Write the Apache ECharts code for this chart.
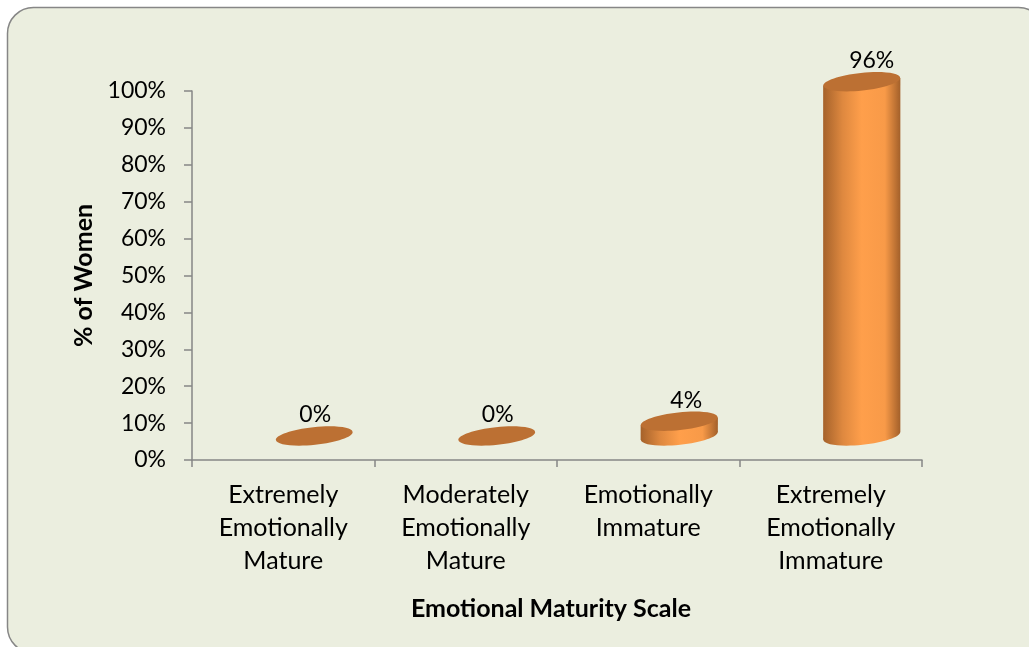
<!DOCTYPE html>
<html>
<head>
<meta charset="utf-8">
<title>Emotional Maturity Scale</title>
<script src="https://cdn.jsdelivr.net/npm/echarts@6/dist/echarts.min.js"></script>
<style>
html, body { margin: 0; padding: 0; background: #fff; }
#chart { width: 1029px; height: 647px; }
</style>
</head>
<body>
<div id="chart"></div>
<script>
const categories = ['Extremely\nEmotionally\nMature', 'Moderately\nEmotionally\nMature', 'Emotionally\nImmature', 'Extremely\nEmotionally\nImmature'];
const percentWomen = [0, 0, 4, 96];
const valueTicks = [0, 10, 20, 30, 40, 50, 60, 70, 80, 90, 100];

const FONT = 'Lato';
const AXIS_COLOR = '#868686';

// fake 3D: the cylinders sit back and to the right of the axis floor
const DEPTH_X = 31;
const DEPTH_Y = 24;
const RX = 38.6;
const RY = 8.8;
const TILT = 6 * Math.PI / 180;
const EDGE_DY = 3.8;

function renderCylinder(params, api) {
    const value = api.value(1);
    const base = api.coord([api.value(0), 0]);
    const top = api.coord([api.value(0), value]);
    const cx = base[0] + DEPTH_X;
    const bottomY = base[1] - DEPTH_Y;
    const topY = top[1] - DEPTH_Y;
    const children = [];

    if (value > 0) {
        const sideFill = new echarts.graphic.LinearGradient(0, 0, 1, 0, [
            { offset: 0, color: '#A5622B' },
            { offset: 0.25, color: '#DE883F' },
            { offset: 0.5, color: '#FF9F4B' },
            { offset: 0.8, color: '#F89A48' },
            { offset: 1, color: '#A3602A' }
        ]);
        children.push({
            type: 'ellipse',
            shape: { cx: cx, cy: bottomY, rx: RX, ry: RY },
            rotation: TILT,
            originX: cx,
            originY: bottomY,
            style: { fill: sideFill }
        });
        children.push({
            type: 'polygon',
            shape: { points: [
                [cx - RX, topY + EDGE_DY], [cx + RX, topY - EDGE_DY],
                [cx + RX, bottomY - EDGE_DY], [cx - RX, bottomY + EDGE_DY]
            ] },
            style: { fill: sideFill }
        });
    }
    children.push({
        type: 'ellipse',
        shape: { cx: cx, cy: topY, rx: RX, ry: RY },
        rotation: TILT,
        originX: cx,
        originY: topY,
        style: { fill: '#BC7033' }
    });
    // label drifts a little right with height in the original
    const labelDx = value > 50 ? 41 : value > 0 ? 38 : 32;
    children.push({
        type: 'text',
        style: {
            x: base[0] + labelDx,
            y: top[1] - 45,
            text: value + '%',
            fill: '#000',
            font: '23px ' + FONT,
            align: 'center',
            verticalAlign: 'middle'
        }
    });
    return { type: 'group', children: children };
}

const chart = echarts.init(document.getElementById('chart'), null, { renderer: 'canvas' });
chart.setOption({
    animation: false,
    backgroundColor: '#fff',
    graphic: [{
        type: 'rect',
        z: -10,
        shape: { x: 7.5, y: 7.5, width: 1037, height: 645.5, r: 26 },
        style: { fill: '#EBEEDF', stroke: AXIS_COLOR, lineWidth: 1.5 }
    }],
    grid: { left: 192, top: 91, width: 730, height: 369 },
    xAxis: {
        type: 'category',
        data: categories,
        name: 'Emotional Maturity Scale',
        nameLocation: 'middle',
        nameGap: 136,
        nameTextStyle: { fontFamily: FONT, fontSize: 25, fontWeight: 'bold', color: '#000', padding: [0, 12, 0, 0] },
        axisLine: { lineStyle: { color: AXIS_COLOR, width: 1.5 } },
        axisTick: { show: true, length: 7, lineStyle: { color: AXIS_COLOR, width: 1.5 } },
        axisLabel: { interval: 0, margin: 18, fontFamily: FONT, fontSize: 25, lineHeight: 33, color: '#000' }
    },
    yAxis: {
        type: 'value',
        min: valueTicks[0],
        max: valueTicks[valueTicks.length - 1],
        interval: 10,
        name: '% of Women',
        nameLocation: 'middle',
        nameGap: 96,
        nameRotate: 90,
        nameTextStyle: { fontFamily: FONT, fontSize: 25, fontWeight: 'bold', color: '#000' },
        axisLine: { show: true, lineStyle: { color: AXIS_COLOR, width: 1.5 } },
        axisTick: { show: true, length: 8, lineStyle: { color: AXIS_COLOR, width: 1.5 } },
        axisLabel: { margin: 26, formatter: '{value}%', fontFamily: FONT, fontSize: 23, color: '#000', padding: [6, 0, 0, 0] },
        splitLine: { show: false }
    },
    series: [{
        type: 'custom',
        renderItem: renderCylinder,
        clip: false,
        encode: { x: 0, y: 1 },
        data: percentWomen.map((v, i) => [i, v])
    }]
});

window.addEventListener('resize', function() {
    chart.resize();
});
</script>
</body>
</html>
